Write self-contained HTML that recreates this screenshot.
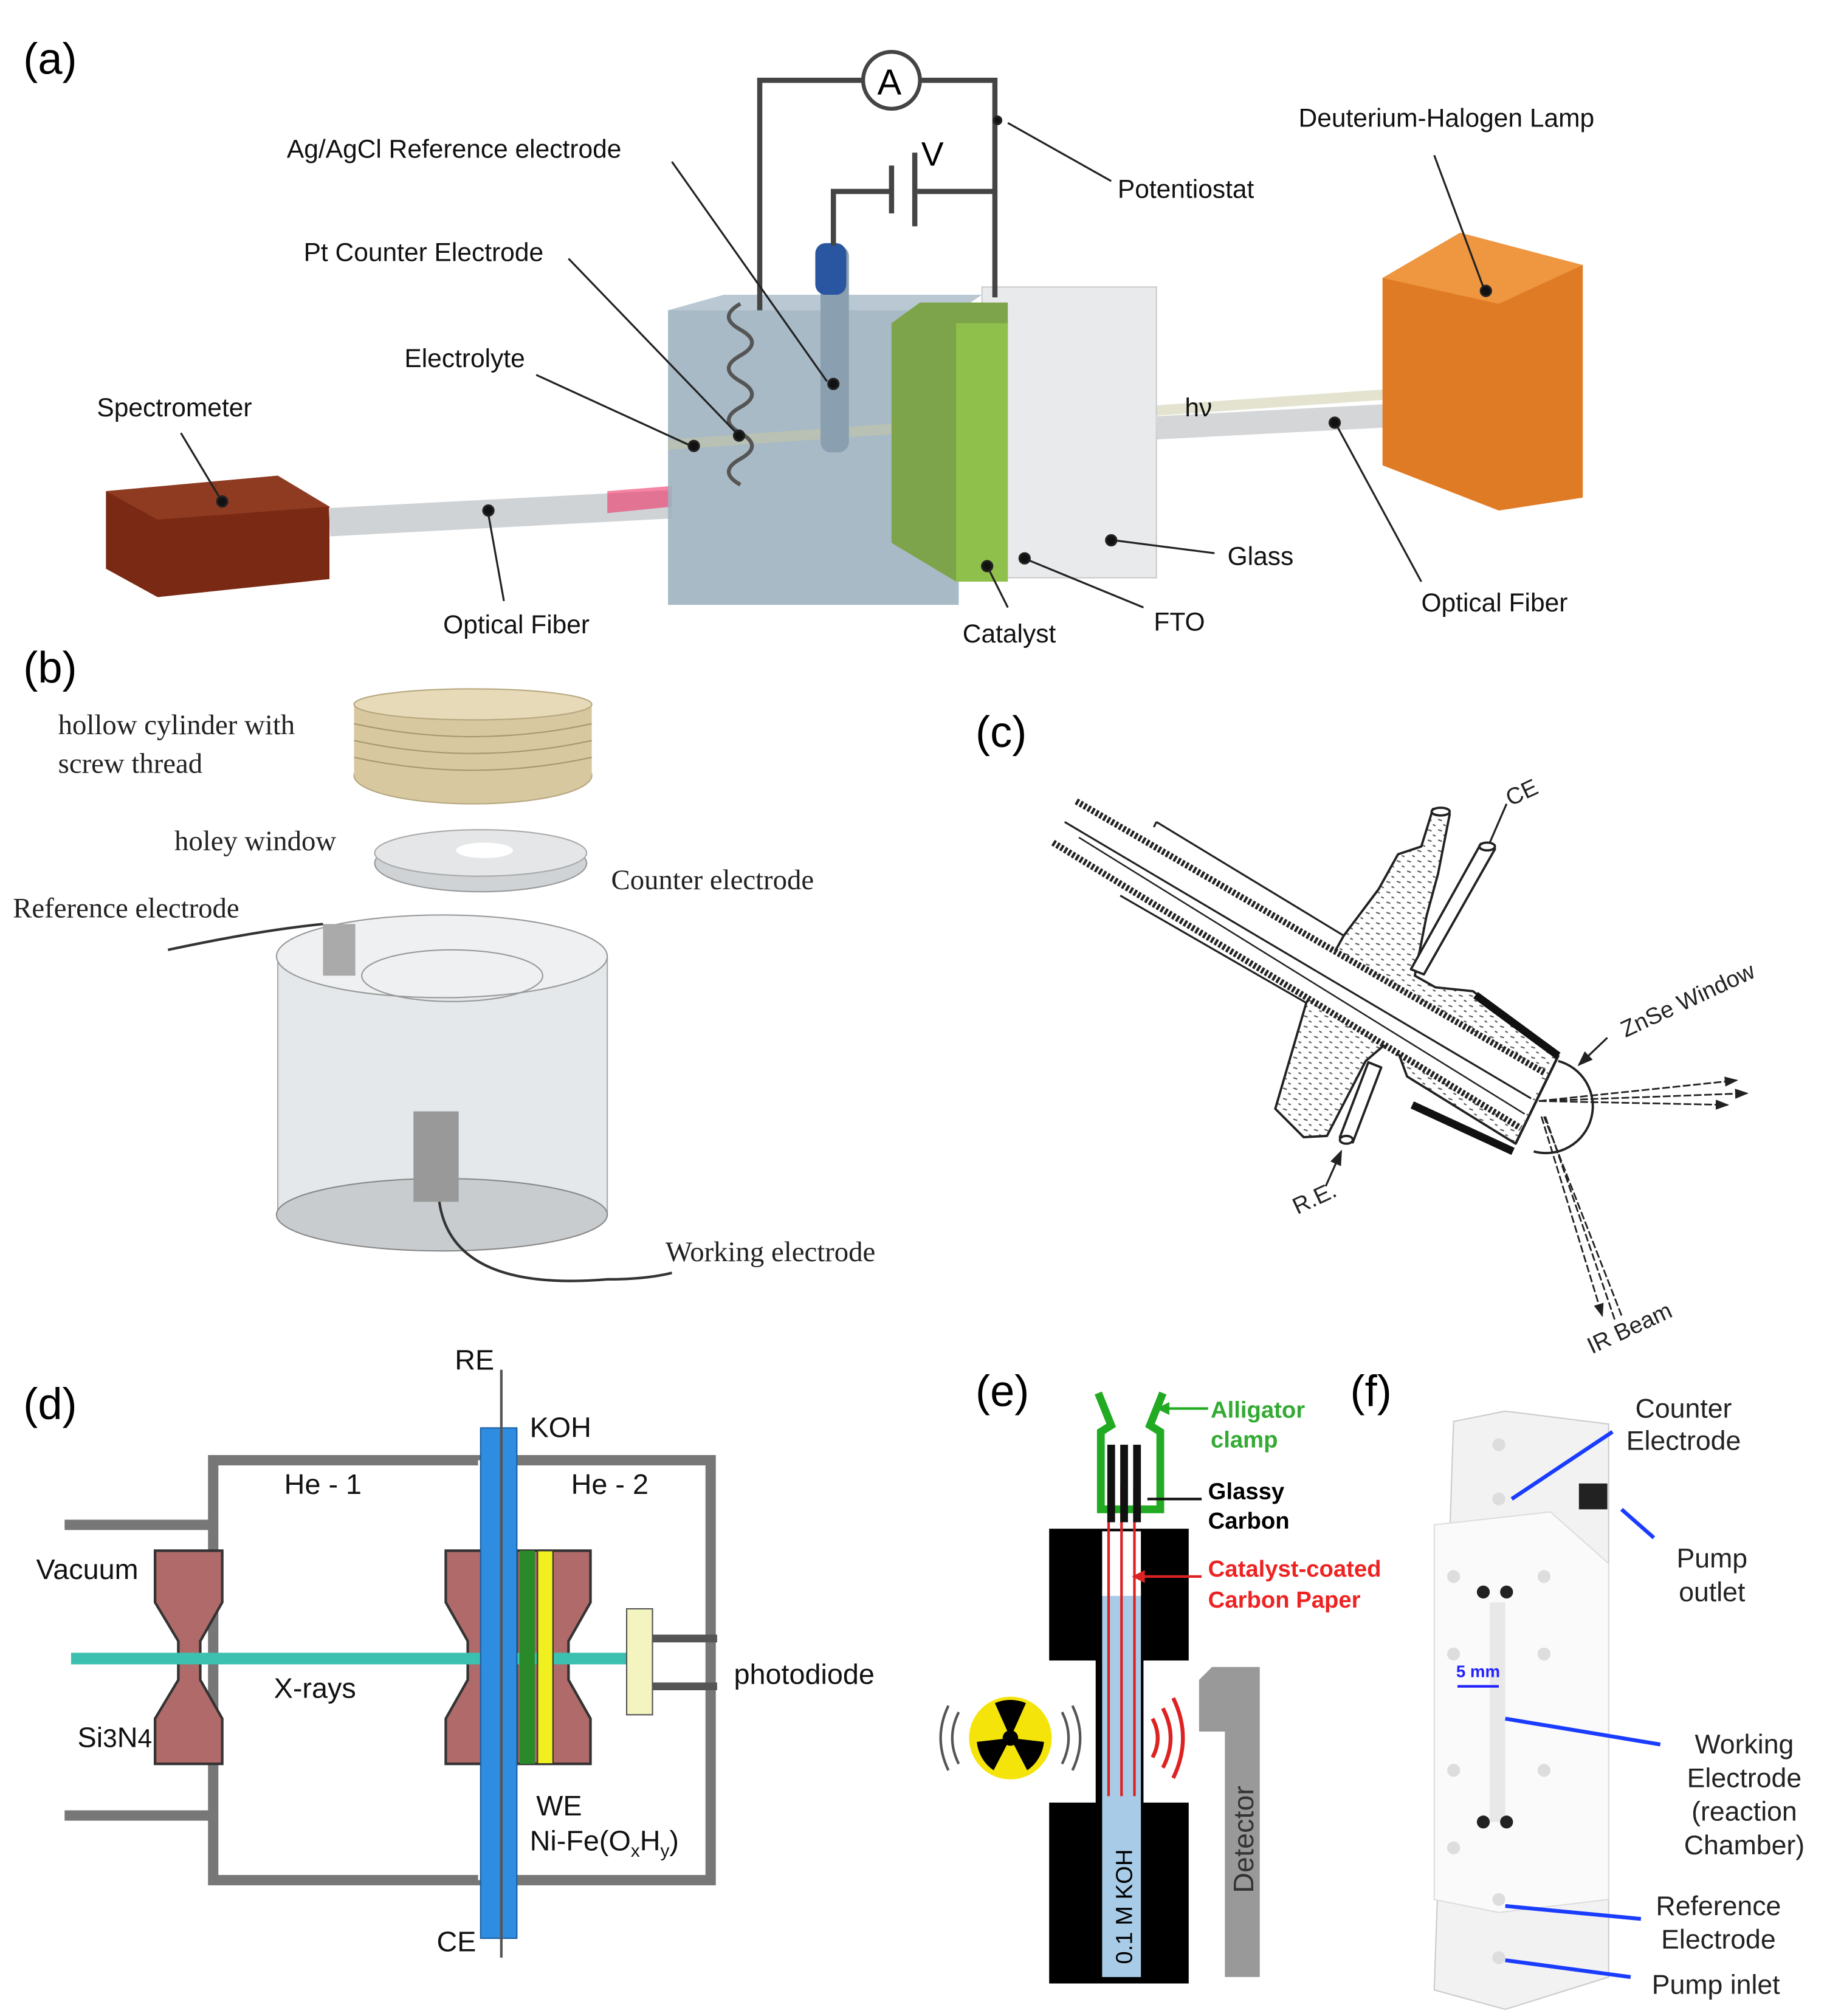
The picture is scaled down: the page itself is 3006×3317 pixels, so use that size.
<!DOCTYPE html>
<html><head><meta charset="utf-8"><style>html,body{margin:0;padding:0;background:#fff}svg{display:block}text{font-family:"Liberation Sans",sans-serif}.s{font-family:"Liberation Serif",serif}</style></head>
<body>
<svg width="3006" height="3317" viewBox="0 0 1414 1560" xmlns="http://www.w3.org/2000/svg">
<defs>
<pattern id="dots" width="8" height="8" patternUnits="userSpaceOnUse"><rect width="8" height="8" fill="#fff"/><line x1="1" y1="2" x2="4" y2="3" stroke="#555" stroke-width="1"/><line x1="5" y1="6" x2="7" y2="7" stroke="#555" stroke-width="1"/></pattern>
<marker id="ah" markerWidth="8" markerHeight="8" refX="7" refY="4" orient="auto"><path d="M0,1 L8,4 L0,7 Z" fill="#222"/></marker>
</defs>
<rect width="1414" height="1560" fill="#fff"/>
<!-- (a) -->
<text x="18" y="57" font-size="34">(a)</text>
<polygon points="82,380 215,368 255,392 255,448 122,462 82,440" fill="#7a2a14"/>
<polygon points="82,380 215,368 255,392 122,402" fill="#8f3b22"/>
<rect x="255" y="393" width="265" height="22" fill="#d0d3d6" transform="rotate(-3 255 404)"/>
<polygon points="470,380 520,376 520,392 470,397" fill="#e36" opacity=".6"/>
<rect x="517" y="240" width="225" height="228" fill="#9fb3c0" opacity=".9"/>
<polygon points="517,240 560,228 760,228 742,240" fill="#b9c8d2"/>
<rect x="517" y="340" width="700" height="8" fill="#c8c8a0" opacity=".5" transform="rotate(-4 517 344)"/>
<rect x="760" y="222" width="135" height="225" fill="#e9eaec" stroke="#ccc"/>
<polygon points="690,250 712,234 780,234 780,450 740,450 690,420" fill="#7da44a"/>
<rect x="740" y="250" width="40" height="200" fill="#8fc04c"/>
<rect x="895" y="322" width="210" height="18" fill="#d4d6d8" transform="rotate(-3 895 331)"/>
<polygon points="1070,215 1130,180 1225,205 1225,385 1160,395 1070,360" fill="#e07b25"/>
<polygon points="1070,215 1130,180 1225,205 1160,235" fill="#ee9640"/>
<rect x="635" y="190" width="22" height="160" rx="8" fill="#8aa0b0"/>
<rect x="631" y="188" width="24" height="40" rx="8" fill="#2a55a0"/>
<path d="M573,235 q-18,10 0,20 q18,10 0,20 q-18,10 0,20 q18,10 0,20 q-18,10 0,20 q18,10 0,20 q-18,10 0,20" fill="none" stroke="#555" stroke-width="3"/>
<g fill="none" stroke="#444" stroke-width="4">
<path d="M588,240 V62 H668 M712,62 H770 V230"/>
<path d="M645,190 V148 H690 M710,148 H770"/>
<path d="M690,128 V165 M708,118 V175"/>
</g>
<circle cx="690" cy="62" r="22" fill="#fff" stroke="#444" stroke-width="3"/>
<text x="679" y="73" font-size="28">A</text><text x="713" y="128" font-size="26">V</text>
<g stroke="#222" stroke-width="1.5" fill="#111">
<line x1="780" y1="95" x2="860" y2="140"/><circle cx="772" cy="93" r="3"/>
<line x1="520" y1="125" x2="640" y2="295"/><circle cx="645" cy="297" r="4"/>
<line x1="440" y1="200" x2="570" y2="335"/><circle cx="572" cy="337" r="4"/>
<line x1="415" y1="290" x2="535" y2="345"/><circle cx="537" cy="345" r="4"/>
<line x1="140" y1="335" x2="170" y2="385"/><circle cx="172" cy="388" r="4"/>
<line x1="390" y1="465" x2="378" y2="398"/><circle cx="378" cy="395" r="4"/>
<line x1="1110" y1="120" x2="1148" y2="222"/><circle cx="1150" cy="225" r="4"/>
<line x1="1100" y1="450" x2="1035" y2="330"/><circle cx="1033" cy="327" r="4"/>
<line x1="940" y1="428" x2="862" y2="418"/><circle cx="860" cy="418" r="4"/>
<line x1="885" y1="470" x2="795" y2="433"/><circle cx="793" cy="432" r="4"/>
<line x1="780" y1="470" x2="765" y2="440"/><circle cx="764" cy="438" r="4"/>
</g>
<g font-size="20" fill="#111">
<text x="222" y="122">Ag/AgCl Reference electrode</text>
<text x="235" y="202">Pt Counter Electrode</text>
<text x="313" y="284">Electrolyte</text>
<text x="75" y="322">Spectrometer</text>
<text x="343" y="490">Optical Fiber</text>
<text x="865" y="153">Potentiostat</text>
<text x="1005" y="98">Deuterium-Halogen Lamp</text>
<text x="917" y="322">hν</text>
<text x="950" y="437">Glass</text>
<text x="1100" y="473">Optical Fiber</text>
<text x="893" y="488">FTO</text>
<text x="745" y="497">Catalyst</text>
</g>
<!-- (b) -->
<text x="18" y="528" font-size="34">(b)</text>
<g fill="#d8c8a0" stroke="#b8a880">
<ellipse cx="366" cy="600" rx="92" ry="22"/><rect x="274" y="545" width="184" height="55" stroke="none"/><ellipse cx="366" cy="545" rx="92" ry="12" fill="#e6dab8"/>
</g>
<g stroke="#a89870" fill="none"><path d="M274,560 q92,20 184,0 M274,573 q92,20 184,0 M274,586 q92,20 184,0"/></g>
<ellipse cx="372" cy="668" rx="82" ry="22" fill="#cfd3d6" stroke="#999"/>
<ellipse cx="372" cy="660" rx="82" ry="18" fill="#e4e6e8" stroke="#aaa"/>
<ellipse cx="375" cy="658" rx="22" ry="6" fill="#fff"/>
<rect x="215" y="740" width="255" height="200" fill="#e4e8ea" stroke="#aaa"/>
<ellipse cx="342" cy="940" rx="128" ry="28" fill="#c8cccf" stroke="#888"/>
<ellipse cx="342" cy="740" rx="128" ry="32" fill="#eef0f2" stroke="#999"/>
<ellipse cx="350" cy="755" rx="70" ry="20" fill="none" stroke="#999"/>
<rect x="320" y="860" width="35" height="70" fill="#999"/>
<rect x="250" y="715" width="25" height="40" fill="#aaa"/>
<path d="M130,735 Q200,720 250,715" stroke="#333" fill="none" stroke-width="2"/>
<path d="M340,930 Q350,1000 470,990 Q500,990 520,985" stroke="#333" fill="none" stroke-width="2"/>
<g class="s" font-size="22" fill="#222">
<text x="45" y="568" class="s">hollow cylinder with</text><text x="45" y="598" class="s">screw thread</text>
<text x="135" y="658" class="s">holey window</text>
<text x="473" y="688" class="s">Counter electrode</text>
<text x="10" y="710" class="s">Reference electrode</text>
<text x="515" y="976" class="s">Working electrode</text>
</g>
<!-- (c) -->
<text x="755" y="578" font-size="34">(c)</text>
<g stroke="#222" stroke-width="1.8" stroke-linejoin="round">
<polygon points="1040,724 1067,688 1082,661 1100,655 1109,626 1122,630 1113,676 1104,709 1095,755 1111,764 1140,767 1206,817 1173,885 1089,833 1078,803 1057,821 1027,879 1009,880 987,858 1011,776" fill="url(#dots)"/>
<polygon points="1146,653 1157,657 1102,754 1092,750" fill="#fff"/>
<polygon points="1059,822 1069,826 1047,884 1037,880" fill="#fff"/>
<ellipse cx="1151" cy="655" rx="6" ry="3" fill="#fff"/>
<ellipse cx="1042" cy="882" rx="5" ry="3" fill="#fff"/>
<ellipse cx="1115" cy="628" rx="7" ry="3" fill="#fff"/>
</g>
<polygon points="833,620 1195,830 1177,873 815,652" fill="#fff"/>
<g fill="none" stroke="#222">
<line x1="833" y1="620" x2="1195" y2="830" stroke-width="5" stroke-dasharray="2,1.5"/>
<line x1="815" y1="652" x2="1177" y2="873" stroke-width="5" stroke-dasharray="2,1.5"/>
<line x1="824" y1="636" x2="1185" y2="850" stroke-width="1.5"/>
<line x1="835" y1="648" x2="1180" y2="862" stroke-width="1.2"/>
<line x1="895" y1="636" x2="1040" y2="724" stroke-width="1.5"/>
<path d="M895,636 l-2,4" stroke-width="1.5"/>
<line x1="867" y1="693" x2="1011" y2="776" stroke-width="1.5"/>
<line x1="1206" y1="817" x2="1173" y2="885" stroke-width="2"/>
<path d="M1206,821 A34,34 0 0 1 1187,891" stroke-width="1.8"/>
<line x1="1166" y1="622" x2="1153" y2="652" stroke-width="1.5"/>
<line x1="1026" y1="918" x2="1038" y2="891" stroke-width="1.5" marker-end="url(#ah)"/>
<line x1="1244" y1="803" x2="1222" y2="824" stroke-width="1.5" marker-end="url(#ah)"/>
<g stroke-width="1.3" stroke-dasharray="6,2">
<line x1="1191" y1="852" x2="1344" y2="836" marker-end="url(#ah)"/>
<line x1="1191" y1="852" x2="1352" y2="846" marker-end="url(#ah)"/>
<line x1="1191" y1="852" x2="1337" y2="855" marker-end="url(#ah)"/>
<line x1="1193" y1="864" x2="1240" y2="1018" marker-end="url(#ah)"/>
<line x1="1255" y1="1018" x2="1195" y2="864"/>
<line x1="1196" y1="864" x2="1250" y2="1022"/>
</g>
</g>
<path d="M1142,770 L1206,817 M1093,855 L1171,891" stroke="#111" stroke-width="6"/>
<g font-size="18" fill="#222">
<text x="1169" y="624" transform="rotate(-25 1169 624)">CE</text>
<text x="1258" y="803" transform="rotate(-25 1258 803)">ZnSe Window</text>
<text x="1004" y="940" transform="rotate(-25 1004 940)">R.E.</text>
<text x="1232" y="1048" transform="rotate(-25 1232 1048)">IR Beam</text>
</g>
<!-- (d) -->
<text x="18" y="1098" font-size="34">(d)</text>
<rect x="165" y="1130" width="385" height="325" fill="none" stroke="#777" stroke-width="8"/>
<rect x="370" y="1130" width="30" height="325" fill="#fff"/>
<path d="M50,1180 H165 M50,1405 H165" stroke="#777" stroke-width="8"/>
<path d="M490,1268 H555 M490,1305 H555" stroke="#555" stroke-width="6"/>
<polygon points="120,1200 172,1200 172,1240 155,1270 155,1300 172,1330 172,1365 120,1365 120,1330 138,1300 138,1270 120,1240" fill="#b06a6a" stroke="#333" stroke-width="2"/>
<polygon points="345,1200 400,1200 400,1365 345,1365 345,1330 362,1300 362,1270 345,1240" fill="#b06a6a" stroke="#333" stroke-width="2"/>
<polygon points="400,1200 457,1200 457,1240 440,1270 440,1300 457,1330 457,1365 400,1365" fill="#b06a6a" stroke="#333" stroke-width="2"/>
<rect x="55" y="1279" width="430" height="9" fill="#3cc0b0"/>
<rect x="372" y="1105" width="28" height="395" fill="#2e8de0" stroke="#1a5fa0"/>
<line x1="388" y1="1060" x2="388" y2="1515" stroke="#555" stroke-width="2"/>
<rect x="402" y="1200" width="12" height="165" fill="#2a8a2a"/>
<rect x="416" y="1200" width="12" height="165" fill="#f0f020" stroke="#333"/>
<rect x="485" y="1245" width="20" height="82" fill="#f4f4c0" stroke="#555"/>
<g font-size="22" fill="#111">
<text x="352" y="1060">RE</text><text x="410" y="1112">KOH</text>
<text x="220" y="1156">He - 1</text><text x="442" y="1156">He - 2</text>
<text x="28" y="1222">Vacuum</text><text x="212" y="1314">X-rays</text>
<text x="60" y="1352">Si<tspan font-size="20">3</tspan>N<tspan font-size="20">4</tspan></text>
<text x="568" y="1303">photodiode</text>
<text x="415" y="1405">WE</text><text x="410" y="1432">Ni-Fe(O<tspan font-size="14" dy="5">x</tspan><tspan dy="-5">H</tspan><tspan font-size="14" dy="5">y</tspan><tspan dy="-5">)</tspan></text>
<text x="338" y="1510">CE</text>
</g>
<!-- (e) -->
<text x="755" y="1088" font-size="34">(e)</text>
<path d="M812,1183 H920 V1285 H885 V1395 H920 V1535 H812 V1395 H848 V1285 H812 Z" fill="#000"/>
<rect x="853" y="1230" width="30" height="300" fill="#a8cce8"/>
<rect x="853" y="1185" width="30" height="50" fill="#fff"/>
<path d="M858,1150 V1390 M868,1150 V1390 M878,1150 V1390" stroke="#d22" stroke-width="2"/>
<path d="M850,1078 l10,25 l-8,5 v60 h46 v-60 l-8,-5 l10,-25" fill="none" stroke="#2a2" stroke-width="6"/>
<rect x="857" y="1118" width="6" height="60" fill="#111"/><rect x="867" y="1118" width="6" height="60" fill="#111"/><rect x="877" y="1118" width="6" height="60" fill="#111"/>
<path d="M938,1290 H975 V1530 H948 V1340 H928 V1300 Z" fill="#999"/>
<circle cx="782" cy="1345" r="32" fill="#f5e40a"/>
<circle cx="782" cy="1345" r="6" fill="#000"/>
<g fill="#000"><path d="M782,1345 L770,1318 A30,30 0 0 1 794,1318 Z"/><path d="M782,1345 L808,1348 A30,30 0 0 1 795,1370 Z"/><path d="M782,1345 L769,1370 A30,30 0 0 1 756,1348 Z"/></g>
<g fill="none" stroke="#555" stroke-width="2"><path d="M742,1325 q-10,20 0,40 M734,1320 q-12,25 0,50 M822,1325 q10,20 0,40 M830,1320 q12,25 0,50"/></g>
<g fill="none" stroke="#d22" stroke-width="3"><path d="M892,1330 q8,15 0,30 M900,1322 q12,23 0,46 M908,1314 q15,31 0,62"/></g>
<line x1="935" y1="1090" x2="900" y2="1090" stroke="#2a2" stroke-width="2"/><polygon points="895,1090 905,1085 905,1095" fill="#2a2"/>
<line x1="930" y1="1160" x2="888" y2="1160" stroke="#111" stroke-width="2"/>
<line x1="930" y1="1220" x2="882" y2="1220" stroke="#d22" stroke-width="2"/><polygon points="876,1220 886,1215 886,1225" fill="#d22"/>
<text x="876" y="1520" font-size="18" transform="rotate(-90 876 1520)">0.1 M KOH</text>
<text x="970" y="1465" font-size="22" fill="#333" transform="rotate(-90 970 1465)">Detector</text>
<g font-size="18" font-weight="bold">
<text x="937" y="1097" fill="#3a3">Alligator</text><text x="937" y="1120" fill="#3a3">clamp</text>
<text x="935" y="1160">Glassy</text><text x="935" y="1183">Carbon</text>
<text x="935" y="1220" fill="#e22">Catalyst-coated</text><text x="935" y="1244" fill="#e22">Carbon Paper</text>
</g>
<!-- (f) -->
<text x="1045" y="1088" font-size="34">(f)</text>
<polygon points="1125,1100 1165,1092 1245,1102 1245,1530 1165,1555 1110,1540" fill="#f2f2f2" stroke="#ccc"/>
<polygon points="1110,1180 1200,1170 1245,1210 1245,1470 1160,1480 1110,1470" fill="#fafafa" stroke="#ddd"/>
<g fill="#ddd"><circle cx="1160" cy="1118" r="5"/><circle cx="1160" cy="1160" r="5"/><circle cx="1125" cy="1220" r="5"/><circle cx="1195" cy="1220" r="5"/><circle cx="1125" cy="1280" r="5"/><circle cx="1195" cy="1280" r="5"/><circle cx="1125" cy="1370" r="5"/><circle cx="1195" cy="1370" r="5"/><circle cx="1125" cy="1430" r="5"/><circle cx="1160" cy="1470" r="5"/><circle cx="1160" cy="1515" r="5"/></g>
<rect x="1153" y="1240" width="12" height="170" fill="#e8e8e8"/>
<g fill="#222"><circle cx="1148" cy="1232" r="5"/><circle cx="1166" cy="1232" r="5"/><circle cx="1148" cy="1410" r="5"/><circle cx="1166" cy="1410" r="5"/></g>
<rect x="1222" y="1148" width="22" height="20" fill="#222"/>
<line x1="1128" y1="1305" x2="1160" y2="1305" stroke="#22f" stroke-width="2"/>
<text x="1127" y="1298" font-size="13" fill="#22f" font-weight="bold">5 mm</text>
<g stroke="#1a3cff" stroke-width="3">
<line x1="1248" y1="1108" x2="1170" y2="1160"/><line x1="1280" y1="1190" x2="1255" y2="1168"/>
<line x1="1285" y1="1350" x2="1165" y2="1330"/><line x1="1270" y1="1485" x2="1165" y2="1475"/><line x1="1262" y1="1530" x2="1165" y2="1517"/>
</g>
<g font-size="21" fill="#222" text-anchor="middle">
<text x="1303" y="1097">Counter</text><text x="1303" y="1122">Electrode</text>
<text x="1325" y="1213">Pump</text><text x="1325" y="1239">outlet</text>
<text x="1350" y="1357">Working</text><text x="1350" y="1383">Electrode</text><text x="1350" y="1409">(reaction</text><text x="1350" y="1435">Chamber)</text>
<text x="1330" y="1482">Reference</text><text x="1330" y="1508">Electrode</text>
<text x="1328" y="1543">Pump inlet</text>
</g>
</svg>
</body></html>
